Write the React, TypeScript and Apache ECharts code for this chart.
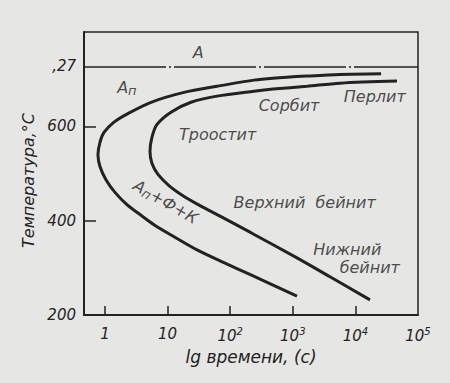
import React, { useEffect, useRef } from "react";
import * as echarts from "echarts";

// x values are lg(time, s); y values are temperature, °C
const startLg = [4.41, 3.754, 3.227, 2.684, 2.38, 1.789, 1.262, 0.735, 0.351, 0.144, -0.016, -0.08, -0.112, -0.08, 0.016, 0.16, 0.351, 0.559, 0.783, 1.102, 1.47, 1.901, 2.332, 3.067];
const startT = [711.5, 710, 706.5, 702, 698, 685, 672, 651, 626, 609, 587, 566, 540, 515, 487, 460, 434, 413, 391.5, 366, 338, 311, 285, 240];
const endLg = [4.665, 3.754, 3.227, 2.684, 2.38, 1.789, 1.374, 1.054, 0.831, 0.751, 0.719, 0.751, 0.847, 1.022, 1.246, 1.518, 1.853, 2.332, 3.067, 3.594, 4.233];
const endT = [696, 691.5, 685, 679, 674.5, 664, 651, 630, 604, 577, 547, 521, 498, 474.5, 453, 432, 408.5, 374.5, 321, 281, 232];

const a1Temp = 727;

const xTickValues = [0, 1, 2, 3, 4, 5];
const xTickLabels = ["1", "10", "10{s|2}", "10{s|3}", "10{s|4}", "10{s|5}"];
const yTickValues = [200, 400, 600, 727];
const yTickLabels = ["200", "400", "600", ",27"];
const yTickMarks = [400, 600];

const noteTexts = ["A", "A{b|п}", "Сорбит", "Перлит", "Троостит", "Верхний  бейнит", "Нижний", "бейнит", "A{b|п}+Ф+К"];
const noteLg = [1.49, 0.35, 2.94, 4.31, 1.8, 3.19, 3.87, 4.23, 0.97];
const noteT = [757, 683, 645, 664, 583, 438, 338, 300, 440];
const noteRotate = [0, 0, 0, 0, 0, 0, 0, 0, -30];

const INK = "#222222";
const FONT = "'DejaVu Sans', sans-serif";

export default function App() {
  const ref = useRef<HTMLDivElement>(null);
  useEffect(() => {
    if (!ref.current) return;
    const chart = echarts.init(ref.current, null, { renderer: "svg" });
    const textBase = { fontFamily: FONT, fontStyle: "italic" as const, color: INK };
    chart.setOption({
      animation: false,
      backgroundColor: "#e6e6e4",
      grid: {
        left: 84,
        right: 32,
        top: 32,
        bottom: 68,
        show: true,
        borderColor: INK,
        borderWidth: 1.5,
      },
      xAxis: {
        type: "value",
        min: -0.335,
        max: 5,
        name: "lg времени, (с)",
        nameLocation: "middle",
        nameGap: 33,
        nameTextStyle: { ...textBase, fontSize: 17 },
        axisLine: { show: true, onZero: false, lineStyle: { color: INK, width: 2 } },
        axisTick: {
          show: true,
          inside: true,
          length: 9,
          customValues: xTickValues.slice(0, 5),
          lineStyle: { color: INK, width: 1.5 },
        },
        axisLabel: {
          ...textBase,
          fontSize: 15,
          margin: 11,
          customValues: xTickValues,
          formatter: (v: number) => xTickLabels[xTickValues.indexOf(Math.round(v))] ?? "",
          rich: {
            s: { ...textBase, fontSize: 10, padding: [0, 0, 9, 0] },
          },
        },
        splitLine: { show: false },
      },
      yAxis: {
        type: "value",
        min: 200,
        max: 800,
        name: "Температура,°С",
        nameLocation: "middle",
        nameGap: 46,
        nameTextStyle: { ...textBase, fontSize: 16, padding: [0, 14, 0, 0] },
        axisLine: { show: true, onZero: false, lineStyle: { color: INK, width: 2 } },
        axisTick: {
          show: true,
          inside: true,
          length: 12,
          customValues: yTickMarks,
          lineStyle: { color: INK, width: 1.5 },
        },
        axisLabel: {
          ...textBase,
          fontSize: 15,
          margin: 8,
          customValues: yTickValues,
          formatter: (v: number) => yTickLabels[yTickValues.indexOf(Math.round(v))] ?? "",
        },
        splitLine: { show: false },
      },
      series: [
        {
          type: "line",
          data: startLg.map((x, i) => [x, startT[i]]),
          smooth: 0.3,
          showSymbol: false,
          silent: true,
          lineStyle: { color: INK, width: 3 },
          markLine: {
            silent: true,
            symbol: "none",
            label: { show: false },
            lineStyle: { color: INK, width: 1.5, type: [82, 3, 2, 3] },
            data: [{ yAxis: a1Temp }],
          },
        },
        {
          type: "line",
          data: endLg.map((x, i) => [x, endT[i]]),
          smooth: 0.3,
          showSymbol: false,
          silent: true,
          lineStyle: { color: INK, width: 3 },
        },
        {
          type: "scatter",
          symbolSize: 0,
          silent: true,
          data: noteTexts.map((t, i) => ({
            value: [noteLg[i], noteT[i]],
            label: { rotate: noteRotate[i] },
            name: t,
          })),
          label: {
            show: true,
            position: "inside",
            ...textBase,
            fontSize: 16,
            formatter: (p: any) => p.name,
            rich: {
              b: { ...textBase, fontSize: 13, padding: [6, 0, 0, 0] },
            },
          },
        },
      ],
    });
    return () => chart.dispose();
  }, []);
  return <div ref={ref} style={{ position: "fixed", left: 0, top: 0, width: 450, height: 383 }} />;
}
